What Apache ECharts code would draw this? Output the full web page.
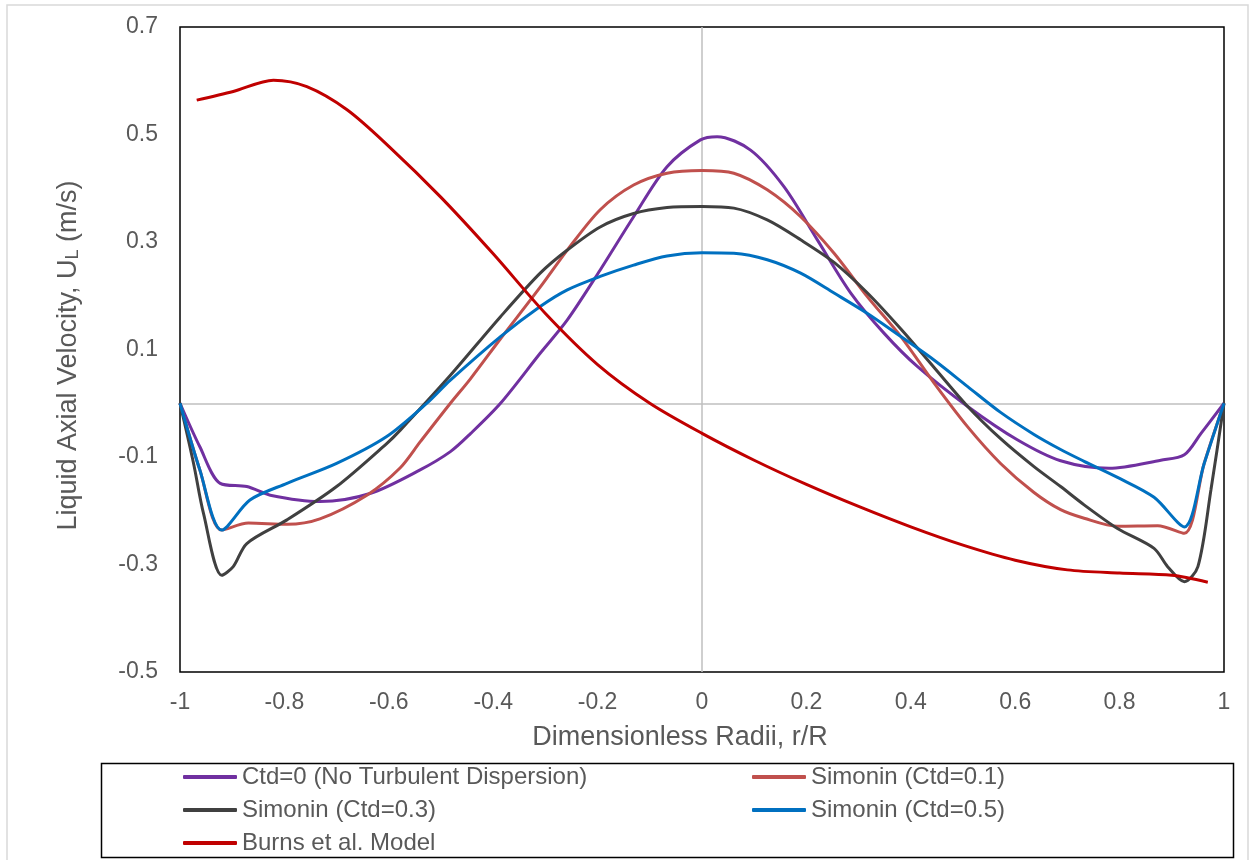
<!DOCTYPE html>
<html>
<head>
<meta charset="utf-8">
<script src="https://cdn.jsdelivr.net/npm/echarts@6/dist/echarts.min.js"></script>
<style>
html,body{margin:0;padding:0;background:#fff;}
#chart{width:1252px;height:860px;}
</style>
</head>
<body>
<div id="chart"></div>
<script>
// ---- Data ----
var xTicks = [-1, -0.8, -0.6, -0.4, -0.2, 0, 0.2, 0.4, 0.6, 0.8, 1];
var yTicks = [-0.5, -0.3, -0.1, 0.1, 0.3, 0.5, 0.7];

var seriesNames = [
  'Ctd=0 (No Turbulent Dispersion)',
  'Simonin (Ctd=0.1)',
  'Simonin (Ctd=0.3)',
  'Simonin (Ctd=0.5)',
  'Burns et al. Model'
];

var ctd0X = [-1, -0.962, -0.923, -0.872, -0.827, -0.732, -0.636, -0.54, -0.482, -0.444, -0.386, -0.31, -0.258, -0.195, -0.131, -0.067, -0.003, 0.029, 0.093, 0.157, 0.221, 0.285, 0.349, 0.413, 0.509, 0.604, 0.687, 0.78, 0.879, 0.924, 0.956, 1];
var ctd0Y = [0, -0.081, -0.149, -0.155, -0.171, -0.183, -0.168, -0.124, -0.09, -0.057, 0, 0.093, 0.155, 0.248, 0.347, 0.44, 0.49, 0.496, 0.471, 0.403, 0.304, 0.205, 0.13, 0.068, -0.006, -0.068, -0.107, -0.121, -0.106, -0.096, -0.056, 0];

var ctd01X = [-1, -0.962, -0.92, -0.869, -0.795, -0.732, -0.642, -0.578, -0.54, -0.482, -0.444, -0.386, -0.31, -0.258, -0.195, -0.131, -0.067, 0, 0.061, 0.125, 0.189, 0.253, 0.317, 0.381, 0.445, 0.509, 0.572, 0.636, 0.687, 0.732, 0.796, 0.873, 0.924, 0.962, 1];
var ctd01Y = [0, -0.124, -0.236, -0.223, -0.225, -0.215, -0.171, -0.12, -0.072, 0, 0.045, 0.12, 0.216, 0.285, 0.36, 0.406, 0.428, 0.433, 0.428, 0.397, 0.347, 0.279, 0.198, 0.124, 0.037, -0.044, -0.112, -0.166, -0.198, -0.214, -0.229, -0.228, -0.242, -0.112, 0];

var ctd03X = [-1, -0.974, -0.955, -0.92, -0.898, -0.872, -0.795, -0.7, -0.604, -0.578, -0.482, -0.386, -0.31, -0.258, -0.195, -0.131, -0.067, 0, 0.061, 0.125, 0.189, 0.253, 0.317, 0.381, 0.445, 0.509, 0.572, 0.636, 0.687, 0.732, 0.796, 0.866, 0.892, 0.924, 0.95, 0.975, 1];
var ctd03Y = [0, -0.112, -0.205, -0.32, -0.304, -0.261, -0.217, -0.155, -0.075, -0.05, 0.052, 0.161, 0.242, 0.285, 0.328, 0.353, 0.364, 0.366, 0.363, 0.341, 0.304, 0.262, 0.205, 0.138, 0.066, -0.006, -0.066, -0.118, -0.155, -0.189, -0.233, -0.27, -0.304, -0.332, -0.304, -0.161, 0];

var ctd05X = [-1, -0.962, -0.92, -0.866, -0.795, -0.7, -0.604, -0.527, -0.482, -0.386, -0.31, -0.258, -0.195, -0.131, -0.067, 0, 0.061, 0.125, 0.189, 0.253, 0.317, 0.381, 0.445, 0.509, 0.572, 0.636, 0.687, 0.732, 0.796, 0.866, 0.924, 0.962, 1];
var ctd05Y = [0, -0.124, -0.236, -0.18, -0.149, -0.112, -0.062, 0, 0.043, 0.124, 0.18, 0.211, 0.236, 0.257, 0.274, 0.28, 0.279, 0.267, 0.242, 0.205, 0.167, 0.124, 0.08, 0.031, -0.017, -0.058, -0.086, -0.108, -0.138, -0.175, -0.23, -0.112, 0];

var burnsX = [-0.968, -0.898, -0.821, -0.757, -0.68, -0.6, -0.5, -0.4, -0.3, -0.2, -0.1, 0, 0.1, 0.2, 0.3, 0.4, 0.5, 0.6, 0.7, 0.8, 0.9, 0.969];
var burnsY = [0.564, 0.58, 0.601, 0.589, 0.546, 0.478, 0.383, 0.278, 0.167, 0.072, 0.0, -0.056, -0.106, -0.151, -0.192, -0.23, -0.264, -0.292, -0.31, -0.316, -0.32, -0.333];

// ---- Build chart ----
function pairs(xs, ys) { return xs.map(function (x, i) { return [x, ys[i]]; }); }

var colors = ['#7030A0', '#C0504D', '#404040', '#0070C0', '#C00000'];
var xsList = [ctd0X, ctd01X, ctd03X, ctd05X, burnsX];
var ysList = [ctd0Y, ctd01Y, ctd03Y, ctd05Y, burnsY];

var FONT = 'Liberation Sans, Arial, sans-serif';
var TXT = '#595959';

var series = seriesNames.map(function (name, i) {
  return {
    name: name,
    type: 'line',
    data: pairs(xsList[i], ysList[i]),
    smooth: 0.3,
    symbol: 'none',
    lineStyle: { color: colors[i], width: 3 },
    itemStyle: { color: colors[i] },
    z: 3,
    emphasis: { disabled: true }
  };
});

series.push({
  name: 'zeroLines',
  type: 'line',
  data: [],
  silent: true,
  z: 1,
  markLine: {
    silent: true,
    z: 1,
    symbol: ['none', 'none'],
    label: { show: false },
    lineStyle: { color: '#BFBFBF', width: 1.5, type: 'solid' },
    emphasis: { disabled: true },
    data: [{ yAxis: 0 }, { xAxis: 0 }]
  }
});

var legendCommon = {
  orient: 'vertical',
  top: 765,
  height: 120,
  padding: 0,
  itemGap: 9,
  itemWidth: 54,
  itemHeight: 4,
  icon: 'roundRect',
  selectedMode: false,
  textStyle: { fontFamily: FONT, fontSize: 24, color: TXT }
};

var option = {
  animation: false,
  backgroundColor: '#fff',
  grid: {
    left: 180, right: 28, top: 27, bottom: 188,
    show: true, borderColor: '#000', borderWidth: 1.5, backgroundColor: 'transparent'
  },
  xAxis: {
    type: 'value',
    min: xTicks[0], max: xTicks[xTicks.length - 1], interval: 0.2,
    name: 'Dimensionless Radii, r/R',
    nameLocation: 'middle',
    nameGap: 52,
    nameTextStyle: { fontFamily: FONT, fontSize: 27, color: TXT, padding: [0, 44, 0, 0] },
    axisLine: { show: false },
    axisTick: { show: false },
    splitLine: { show: false },
    axisLabel: { fontFamily: FONT, fontSize: 23, color: TXT, margin: 19 }
  },
  yAxis: {
    type: 'value',
    min: yTicks[0], max: yTicks[yTicks.length - 1], interval: 0.2,
    name: 'Liquid Axial Velocity, U{sub|L} (m/s)',
    nameLocation: 'middle',
    nameGap: 98,
    nameTextStyle: {
      fontFamily: FONT, fontSize: 27, color: TXT, padding: [0, 12, 0, 0],
      rich: { sub: { fontFamily: FONT, fontSize: 18, color: TXT, padding: [9, 0, 0, 0] } }
    },
    axisLine: { show: false },
    axisTick: { show: false },
    splitLine: { show: false },
    axisLabel: { fontFamily: FONT, fontSize: 23, color: TXT, margin: 22 }
  },
  legend: [
    Object.assign({}, legendCommon, { left: 183, data: [seriesNames[0], seriesNames[2], seriesNames[4]] }),
    Object.assign({}, legendCommon, { left: 752, data: [seriesNames[1], seriesNames[3]] })
  ],
  graphic: [
    { type: 'rect', silent: true, z: 0,
      shape: { x: 7, y: 5, width: 1241, height: 870 },
      style: { fill: 'none', stroke: '#D9D9D9', lineWidth: 1.5 } },
    { type: 'rect', silent: true, z: 0,
      shape: { x: 101.5, y: 763.5, width: 1132, height: 94 },
      style: { fill: 'none', stroke: '#000', lineWidth: 1.5 } }
  ],
  series: series
};

var chart = echarts.init(document.getElementById('chart'), null, { renderer: 'canvas' });
chart.setOption(option);
</script>
</body>
</html>
